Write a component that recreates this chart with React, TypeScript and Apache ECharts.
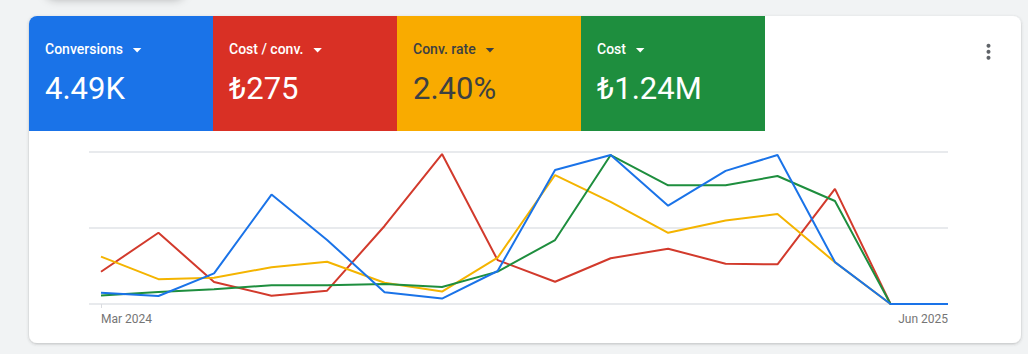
import React, { useEffect, useRef } from "react";
import * as echarts from "echarts";

// ---- data ----
const months = [
  "2024-03-01", "2024-04-01", "2024-05-01", "2024-06-01", "2024-07-01", "2024-08-01",
  "2024-09-01", "2024-10-01", "2024-11-01", "2024-12-01", "2025-01-01", "2025-02-01",
  "2025-03-01", "2025-04-01", "2025-05-01", "2025-06-01",
];
const tickLabels = ["Mar 2024", "Jun 2025"];
const metricNames = ["Conversions", "Cost / conv.", "Conv. rate", "Cost"];
const metricTotals = ["4.49K", "₺275", "2.40%", "₺1.24M"];

const conversions = [52, 37, 141, 504, 295, 54, 25, 152, 617, 686, 453, 613, 686, 193, 0, 0];
const costPerConv = [223, 492, 152, 57, 92, 539, 1036, 303, 154, 316, 382, 278, 274, 795, 0, 0];
const convRate = [1.87, 0.98, 1.04, 1.45, 1.67, 0.84, 0.49, 1.83, 5.09, 4.03, 2.81, 3.3, 3.55, 1.65, 0, 0];
const cost = [12700, 18200, 22300, 28300, 28300, 30400, 25800, 49000, 96800, 225400, 179600, 179600, 193700, 155900, 0, 0];
const axisMax = [700, 1050, 6, 230000];

// ---- style ----
const tileColors = ["#1a73e8", "#d93025", "#f9ab00", "#1e8e3e"];
const tileText = ["#ffffff", "#ffffff", "#3c4043", "#ffffff"];
const lineColors = ["#1a73e8", "#d23a2c", "#f4b400", "#1e8e3e"];
const FONT = "Roboto, 'Noto Sans', sans-serif";

function measure(text: string, font: string): number {
  const c = document.createElement("canvas").getContext("2d");
  if (!c) return text.length * 7;
  c.font = font;
  return c.measureText(text).width;
}

export default function App() {
  const ref = useRef<HTMLDivElement>(null);
  useEffect(() => {
    if (!ref.current) return;
    const chart = echarts.init(ref.current, null, { renderer: "svg" });
    const t0 = Date.parse(months[0]);
    const day = (d: string) => (Date.parse(d) - t0) / 86400000;
    const xMax = day(months[months.length - 1]);
    const pts = (arr: number[]) => months.map((m, i) => [day(m), arr[i]]);

    const tileW = 184;
    const tileX0 = 29;
    const tiles: any[] = [];
    metricNames.forEach((name, i) => {
      const x = tileX0 + i * tileW;
      tiles.push({
        type: "rect",
        shape: { x, y: 16, width: tileW, height: 115, r: i === 0 ? [8, 0, 0, 0] : 0 },
        style: { fill: tileColors[i] },
        z: 2,
      });
      tiles.push({
        type: "text",
        x: x + 16,
        y: 49,
        style: {
          text: name,
          fill: tileText[i],
          font: `500 14px ${FONT}`,
          verticalAlign: "middle",
        },
        z: 3,
      });
      const w = measure(name, `500 14px Roboto`);
      const tx = x + 16 + w + 10;
      tiles.push({
        type: "polygon",
        shape: { points: [[tx, 48], [tx + 8.5, 48], [tx + 4.25, 52.5]] },
        style: { fill: tileText[i] },
        z: 3,
      });
      tiles.push({
        type: "text",
        x: x + 16,
        y: 88.5,
        style: {
          text: metricTotals[i],
          fill: tileText[i],
          font: `400 31px ${FONT}`,
          verticalAlign: "middle",
        },
        z: 3,
      });
    });

    const option: any = {
      animation: false,
      backgroundColor: "#f1f3f4",
      graphic: [
        {
          type: "rect",
          shape: { x: 45, y: -40, width: 140, height: 38, r: 10 },
          style: { fill: "#f1f3f4", shadowBlur: 8, shadowColor: "rgba(0,0,0,0.25)", shadowOffsetY: 2 },
          z: 0,
        },
        {
          type: "rect",
          shape: { x: 29, y: 16, width: 992, height: 327, r: 8 },
          style: { fill: "#ffffff", shadowBlur: 3, shadowColor: "rgba(60,64,67,0.3)", shadowOffsetY: 1 },
          z: 0,
          silent: true,
        },
        ...tiles,
        ...[45.7, 51.7, 57.7].map((cy) => ({
          type: "circle",
          shape: { cx: 988.5, cy, r: 2 },
          style: { fill: "#5f6368" },
          z: 3,
        })),
      ],
      grid: [
        { left: 89, right: 80, top: 152, bottom: 50 },
        { left: 101, right: 80, top: 152, bottom: 50 },
      ],
      xAxis: [
        { type: "value", gridIndex: 0, min: 0, max: 1, show: false },
        {
          type: "value",
          gridIndex: 1,
          min: 0,
          max: xMax,
          interval: xMax,
          axisLine: { show: false },
          axisTick: { show: true, length: 4, lineStyle: { color: "#dadce0", width: 1 }, customValues: [0] },
          splitLine: { show: false },
          axisLabel: {
            show: true,
            showMinLabel: true,
            showMaxLabel: true,
            alignMinLabel: "left",
            alignMaxLabel: "right",
            margin: 9,
            color: "#757575",
            fontSize: 12,
            fontFamily: FONT,
            formatter: (v: number) => (v === 0 ? tickLabels[0] : tickLabels[1]),
          },
        },
      ],
      yAxis: [
        {
          type: "value",
          gridIndex: 0,
          min: 0,
          max: 2,
          interval: 1,
          axisLabel: { show: false },
          axisLine: { show: false },
          axisTick: { show: false },
          splitLine: { show: true, lineStyle: { color: "#e8eaed", width: 2 } },
        },
        ...axisMax.map((m) => ({
          type: "value",
          gridIndex: 1,
          min: 0,
          max: m,
          show: false,
          splitLine: { show: false },
        })),
      ],
      series: [
        { name: metricNames[1], data: pts(costPerConv), yAxisIndex: 2, color: lineColors[1] },
        { name: metricNames[2], data: pts(convRate), yAxisIndex: 3, color: lineColors[2] },
        { name: metricNames[3], data: pts(cost), yAxisIndex: 4, color: lineColors[3] },
        { name: metricNames[0], data: pts(conversions), yAxisIndex: 1, color: lineColors[0] },
      ].map((s) => ({
        ...s,
        type: "line",
        xAxisIndex: 1,
        showSymbol: false,
        symbol: "none",
        lineStyle: { width: 2, color: s.color },
        z: 5,
      })),
    };
    chart.setOption(option);
    return () => chart.dispose();
  }, []);
  return (
    <div
      ref={ref}
      style={{ position: "fixed", left: 0, top: 0, width: 1028, height: 354 }}
    />
  );
}
